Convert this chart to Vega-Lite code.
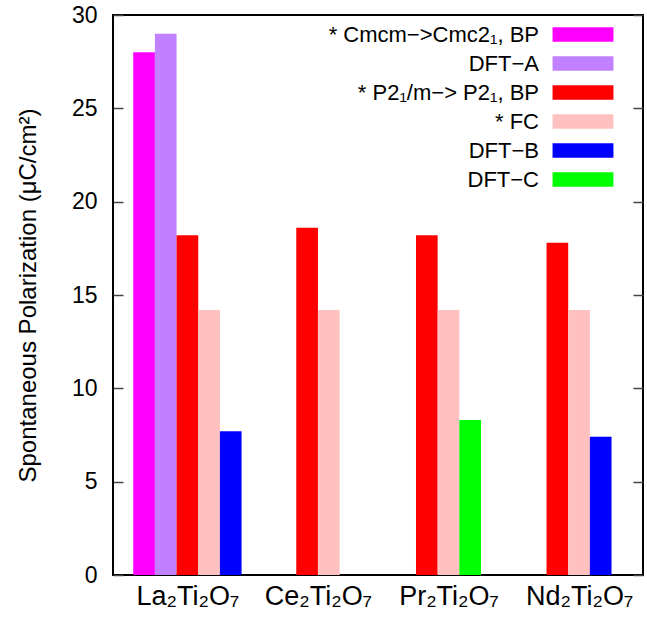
{
  "$schema": "https://vega.github.io/schema/vega-lite/v6.json",
  "width": 530,
  "height": 560,
  "autosize": {"type": "none"},
  "padding": {"left": 113, "top": 15, "right": 4, "bottom": 42},
  "background": "white",
  "config": {
    "view": {"stroke": "#000000", "strokeWidth": 2},
    "font": "Liberation Sans"
  },
  "data": {
    "values": [
      {"compound": "La2Ti2O7", "series": "* Cmcm−>Cmc2₁, BP", "value": 28.0},
      {"compound": "La2Ti2O7", "series": "DFT−A", "value": 29.0},
      {"compound": "La2Ti2O7", "series": "* P2₁/m−> P2₁, BP", "value": 18.2},
      {"compound": "La2Ti2O7", "series": "* FC", "value": 14.2},
      {"compound": "La2Ti2O7", "series": "DFT−B", "value": 7.7},
      {"compound": "Ce2Ti2O7", "series": "* P2₁/m−> P2₁, BP", "value": 18.6},
      {"compound": "Ce2Ti2O7", "series": "* FC", "value": 14.2},
      {"compound": "Pr2Ti2O7", "series": "* P2₁/m−> P2₁, BP", "value": 18.2},
      {"compound": "Pr2Ti2O7", "series": "* FC", "value": 14.2},
      {"compound": "Pr2Ti2O7", "series": "DFT−C", "value": 8.3},
      {"compound": "Nd2Ti2O7", "series": "* P2₁/m−> P2₁, BP", "value": 17.8},
      {"compound": "Nd2Ti2O7", "series": "* FC", "value": 14.2},
      {"compound": "Nd2Ti2O7", "series": "DFT−B", "value": 7.4}
    ]
  },
  "transform": [
    {"window": [{"op": "row_number", "as": "rank"}], "groupby": ["compound"]},
    {"joinaggregate": [{"op": "count", "as": "n"}], "groupby": ["compound"]},
    {"calculate": "indexof(['La2Ti2O7','Ce2Ti2O7','Pr2Ti2O7','Nd2Ti2O7'], datum.compound)", "as": "gi"},
    {"calculate": "datum.gi + (datum.rank - 1 - datum.n / 2) * 0.166", "as": "x0"},
    {"calculate": "datum.x0 + 0.166", "as": "x1"}
  ],
  "layer": [
    {
      "mark": {"type": "bar", "opacity": 1},
      "encoding": {
        "x": {
          "field": "x0",
          "type": "quantitative",
          "scale": {"domain": [-0.57, 3.49], "nice": false, "zero": false},
          "axis": {
            "values": [0, 1, 2, 3],
            "labelExpr": "['La₂Ti₂O₇','Ce₂Ti₂O₇','Pr₂Ti₂O₇','Nd₂Ti₂O₇'][datum.value]",
            "ticks": false,
            "domain": false,
            "grid": false,
            "title": null,
            "labelFontSize": 27,
            "labelColor": "#000000",
            "labelPadding": 8,
            "labelFlush": false
          }
        },
        "x2": {"field": "x1"},
        "y": {
          "field": "value",
          "type": "quantitative",
          "scale": {"domain": [0, 30], "nice": false},
          "axis": {
            "values": [0, 5, 10, 15, 20, 25, 30],
            "grid": false,
            "domain": false,
            "tickSize": -10,
            "tickColor": "#444444",
            "tickWidth": 1.5,
            "labelFontSize": 23,
            "labelColor": "#000000",
            "labelPadding": 26,
            "title": "Spontaneous Polarization (μC/cm²)",
            "titleFontSize": 24,
            "titleFontWeight": "normal",
            "titleColor": "#000000",
            "titlePadding": 31
          }
        },
        "y2": {"datum": 0},
        "color": {
          "field": "series",
          "type": "nominal",
          "scale": {
            "domain": ["* Cmcm−>Cmc2₁, BP", "DFT−A", "* P2₁/m−> P2₁, BP", "* FC", "DFT−B", "DFT−C"],
            "range": ["#ff00ff", "#c080ff", "#ff0000", "#ffc0c0", "#0000ff", "#00ff00"]
          },
          "legend": {
            "title": null,
            "orient": "none",
            "legendX": 459,
            "legendY": 8.5,
            "padding": 0,
            "symbolType": "M-2.9,-0.69H2.9V0.69H-2.9Z",
            "symbolSize": 441,
            "symbolStrokeWidth": 0,
            "symbolOpacity": 1,
            "rowPadding": 7,
            "labelAlign": "right",
            "labelOffset": -55,
            "labelFontSize": 22,
            "labelColor": "#000000",
            "labelLimit": 400
          }
        }
      }
    },
    {
      "mark": {"type": "rule", "color": "#000000", "strokeOpacity": 0},
      "encoding": {
        "y": {
          "datum": 0,
          "type": "quantitative",
          "axis": {
            "orient": "right",
            "values": [0, 5, 10, 15, 20, 25, 30],
            "labels": false,
            "grid": false,
            "domain": false,
            "tickSize": -10,
            "tickColor": "#444444",
            "tickWidth": 1.5,
            "title": null
          }
        }
      }
    }
  ],
  "resolve": {"axis": {"y": "independent"}}
}
